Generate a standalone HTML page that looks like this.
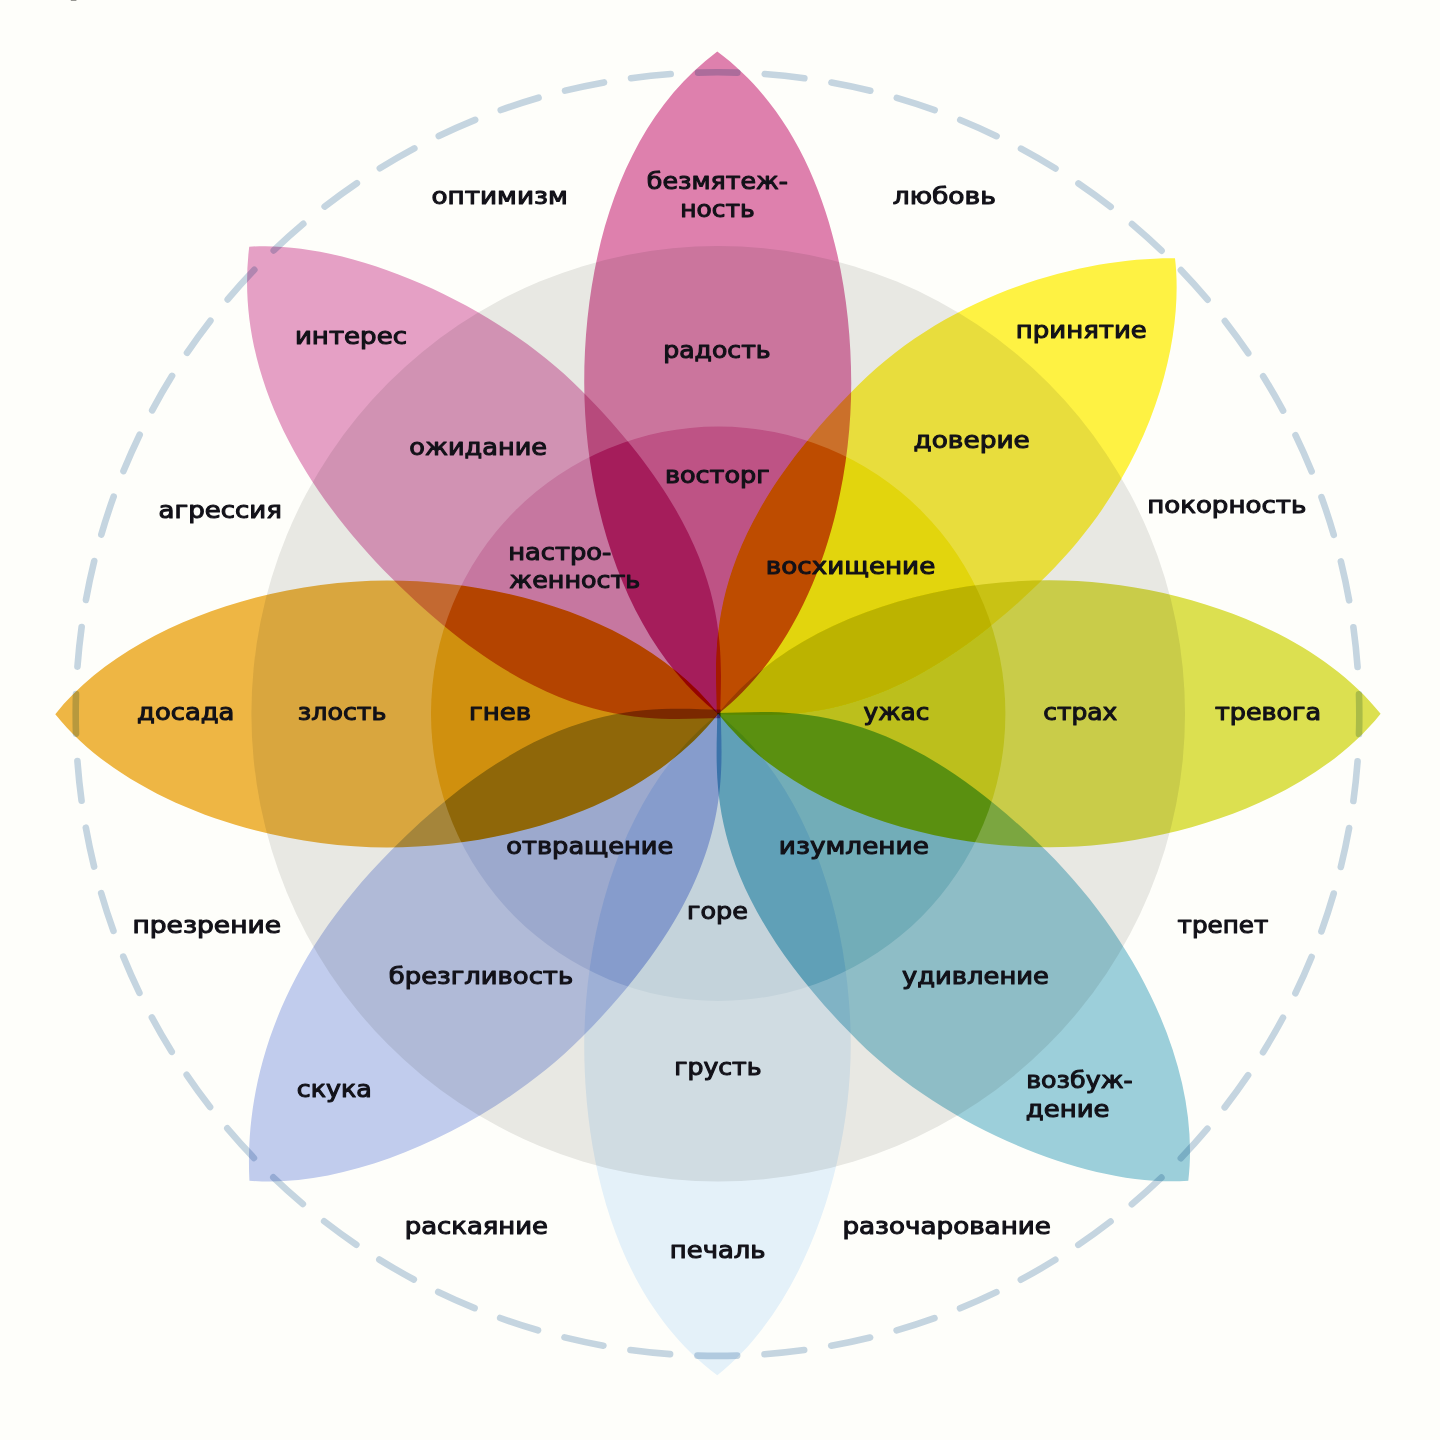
<!DOCTYPE html>
<html lang="ru"><head><meta charset="utf-8"><title>Колесо эмоций</title>
<style>
html,body{margin:0;padding:0;background:#fefefa;}
body{width:1440px;height:1440px;overflow:hidden}
svg{display:block;isolation:isolate}
.p{mix-blend-mode:multiply}
.m{mix-blend-mode:multiply}
.b{mix-blend-mode:color-burn}
text{font-family:"DejaVu Sans","Liberation Sans",sans-serif;font-weight:400;font-size:22.3px;fill:#121118;stroke:#121118;stroke-width:1.05px;stroke-linejoin:round}
</style></head><body>
<svg width="1440" height="1440" viewBox="0 0 1440 1440">
<rect width="1440" height="1440" fill="#fefefa"/>
<rect x="70.8" y="0" width="5.6" height="0.9" fill="#8c8c87"/>
<circle cx="717.5" cy="714.1" r="641.8" fill="none" stroke="#c5d5e0" stroke-width="6.6" stroke-linecap="round" stroke-dasharray="39.800 27.409" stroke-dashoffset="19.900" transform="rotate(-90 717.5 714.1)"/>
<path class="p" d="M0,0C93.0,-72.6 133.5,-211.0 133.5,-331.0C133.5,-450.0 99.7,-588.4 0,-662.2C-99.7,-588.4 -133.5,-450.0 -133.5,-331.0C-133.5,-211.0 -93.0,-72.6 0,0Z" fill="#df81b1" transform="translate(718.2 713.8) rotate(-0.08)"/>
<path class="p" d="M0,0C44.5,-44.5 134.5,-106.0 134.5,-331.0C134.5,-487.5 60.2,-599.3 0,-646.3C-60.1,-587.3 -133.5,-470.0 -133.5,-331.0C-133.5,-106.0 -44.5,-44.5 0,0Z" fill="#fff344" transform="translate(716.8 714.1) rotate(45.15)"/>
<path class="p" d="M0,0C93.0,-72.6 133.5,-211.0 133.5,-331.0C133.5,-454.0 86.0,-593.8 0,-662.4C-86.0,-593.8 -133.5,-454.0 -133.5,-331.0C-133.5,-211.0 -93.0,-72.6 0,0Z" fill="#dde151" transform="translate(718.2 713.8) rotate(89.99)"/>
<path class="p" d="M0,0C44.5,-44.5 133.5,-106.0 133.5,-331.0C133.5,-457.8 72.3,-601.6 0,-663.8C-88.3,-594.8 -134.0,-459.0 -134.0,-331.0C-134.0,-106.0 -44.5,-44.5 0,0Z" fill="#9dd0df" transform="translate(717.2 713.0) rotate(134.79)"/>
<path class="p" d="M0,0C93.0,-72.6 133.5,-211.0 133.5,-331.0C133.5,-450.0 99.7,-587.7 0,-661.5C-86.0,-592.9 -133.0,-454.0 -133.0,-331.0C-133.0,-211.0 -93.0,-72.6 0,0Z" fill="#e5f2fe" transform="translate(718.2 713.8) rotate(-179.92)"/>
<path class="p" d="M0,0C44.5,-44.5 133.5,-106.0 133.5,-331.0C133.5,-510.0 59.7,-612.6 0,-666.4C-78.5,-601.2 -133.5,-456.0 -133.5,-331.0C-133.5,-106.0 -44.5,-44.5 0,0Z" fill="#c2cdf2" transform="translate(720.8 709.6) rotate(-134.98)"/>
<path class="p" d="M0,0C93.0,-72.6 133.5,-211.0 133.5,-331.0C133.5,-454.0 86.0,-594.3 0,-662.9C-86.0,-594.3 -133.5,-454.0 -133.5,-331.0C-133.5,-211.0 -93.0,-72.6 0,0Z" fill="#efb745" transform="translate(718.2 713.8) rotate(-90.03)"/>
<path class="p" d="M0,0C44.5,-44.5 133.5,-106.0 133.5,-331.0C133.5,-457.8 72.3,-604.2 0,-666.4C-95.8,-591.6 -133.5,-463.8 -133.5,-331.0C-133.5,-106.0 -44.5,-44.5 0,0Z" fill="#e6a1c9" transform="translate(720.2 718.2) rotate(-44.97)"/>
<ellipse class="m" cx="718.2" cy="713.8" rx="466.8" ry="467.8" fill="#e9e9e8"/>
<circle class="b" cx="718.2" cy="713.8" r="287.2" fill="#cccccc"/>
<text x="431.52" y="204" textLength="136.2" lengthAdjust="spacingAndGlyphs">оптимизм</text>
<text x="646.85" y="189" textLength="141.1" lengthAdjust="spacingAndGlyphs">безмятеж-</text>
<text x="680.23" y="217" textLength="74.4" lengthAdjust="spacingAndGlyphs">ность</text>
<text x="892.71" y="204" textLength="103.2" lengthAdjust="spacingAndGlyphs">любовь</text>
<text x="294.93" y="344" textLength="112.1" lengthAdjust="spacingAndGlyphs">интерес</text>
<text x="663.19" y="357.5" textLength="107.4" lengthAdjust="spacingAndGlyphs">радость</text>
<text x="1015.89" y="338" textLength="130.9" lengthAdjust="spacingAndGlyphs">принятие</text>
<text x="409.31" y="455" textLength="137.7" lengthAdjust="spacingAndGlyphs">ожидание</text>
<text x="913.48" y="448" textLength="116.3" lengthAdjust="spacingAndGlyphs">доверие</text>
<text x="664.92" y="483" textLength="104.8" lengthAdjust="spacingAndGlyphs">восторг</text>
<text x="158.58" y="518" textLength="123.3" lengthAdjust="spacingAndGlyphs">агрессия</text>
<text x="1147.15" y="512.7" textLength="159.2" lengthAdjust="spacingAndGlyphs">покорность</text>
<text x="508.17" y="559.5" textLength="103.2" lengthAdjust="spacingAndGlyphs">настро-</text>
<text x="509.35" y="587.5" textLength="130.9" lengthAdjust="spacingAndGlyphs">женность</text>
<text x="765.85" y="574.3" textLength="169.4" lengthAdjust="spacingAndGlyphs">восхищение</text>
<text x="137.05" y="720.3" textLength="97.4" lengthAdjust="spacingAndGlyphs">досада</text>
<text x="297.84" y="720.3" textLength="88.7" lengthAdjust="spacingAndGlyphs">злость</text>
<text x="468.93" y="720.3" textLength="62.2" lengthAdjust="spacingAndGlyphs">гнев</text>
<text x="863.51" y="720.3" textLength="65.8" lengthAdjust="spacingAndGlyphs">ужас</text>
<text x="1043.24" y="720.3" textLength="74.0" lengthAdjust="spacingAndGlyphs">страх</text>
<text x="1214.94" y="720.3" textLength="106.1" lengthAdjust="spacingAndGlyphs">тревога</text>
<text x="506.32" y="853.5" textLength="167.0" lengthAdjust="spacingAndGlyphs">отвращение</text>
<text x="778.8" y="853.5" textLength="150.1" lengthAdjust="spacingAndGlyphs">изумление</text>
<text x="687.02" y="919.3" textLength="60.8" lengthAdjust="spacingAndGlyphs">горе</text>
<text x="132.49" y="933.3" textLength="148.5" lengthAdjust="spacingAndGlyphs">презрение</text>
<text x="1177.55" y="933.3" textLength="90.7" lengthAdjust="spacingAndGlyphs">трепет</text>
<text x="388.82" y="984" textLength="184.3" lengthAdjust="spacingAndGlyphs">брезгливость</text>
<text x="902.01" y="984" textLength="146.9" lengthAdjust="spacingAndGlyphs">удивление</text>
<text x="674.19" y="1075" textLength="87.4" lengthAdjust="spacingAndGlyphs">грусть</text>
<text x="296.81" y="1097" textLength="75.1" lengthAdjust="spacingAndGlyphs">скука</text>
<text x="1026.19" y="1088.3" textLength="106.4" lengthAdjust="spacingAndGlyphs">возбуж-</text>
<text x="1025.83" y="1117.2" textLength="83.7" lengthAdjust="spacingAndGlyphs">дение</text>
<text x="404.82" y="1233.9" textLength="143.2" lengthAdjust="spacingAndGlyphs">раскаяние</text>
<text x="842.47" y="1233.8" textLength="208.4" lengthAdjust="spacingAndGlyphs">разочарование</text>
<text x="669.85" y="1258.3" textLength="95.7" lengthAdjust="spacingAndGlyphs">печаль</text>
</svg></body></html>
